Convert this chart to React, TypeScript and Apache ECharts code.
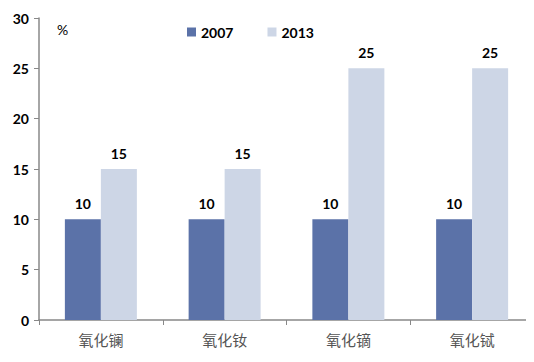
import React, { useEffect, useRef } from "react";
import * as echarts from "echarts";

const categories = ["氧化镧", "氧化钕", "氧化镝", "氧化铽"];
const series2007 = [10, 10, 10, 10];
const series2013 = [15, 15, 25, 25];
const yTicks = { min: 0, max: 30, interval: 5 };

const FONT = "Lato, 'Liberation Sans', sans-serif";

export default function App() {
  const ref = useRef<HTMLDivElement>(null);
  useEffect(() => {
    const chart = echarts.init(ref.current!, null, { renderer: "svg" });
    const labelStyle = {
      show: true,
      position: "top" as const,
      color: "#000",
      fontSize: 14,
      fontWeight: "bold" as const,
      fontFamily: FONT,
      distance: 9,
    };
    chart.setOption({
      animation: false,
      backgroundColor: "#fff",
      grid: { left: 39, right: -1, top: 18, bottom: 42 },
      legend: {
        left: 182,
        top: 20,
        itemWidth: 9,
        itemHeight: 9,
        itemGap: 34,
        icon: "rect",
        textStyle: { fontSize: 14, color: "#000", fontFamily: FONT, fontWeight: "bold" },
        data: ["2007", "2013"],
      },
      graphic: [
        {
          type: "text",
          left: 57,
          top: 22,
          style: { text: "%", fontSize: 14, fill: "#000", fontFamily: FONT },
        },
      ],
      xAxis: {
        type: "category",
        data: categories,
        axisLine: { lineStyle: { color: "#888", width: 1.5 } },
        axisTick: { show: true, length: 5, lineStyle: { color: "#888" } },
        axisLabel: {
          fontSize: 15,
          color: "#555",
          margin: 12,
          fontFamily: "'Noto Sans CJK SC', sans-serif",
        },
      },
      yAxis: {
        type: "value",
        min: yTicks.min,
        max: yTicks.max,
        interval: yTicks.interval,
        splitLine: { show: false },
        axisLine: { show: true, lineStyle: { color: "#888", width: 1.5 } },
        axisTick: { show: true, length: 5, lineStyle: { color: "#888" } },
        axisLabel: {
          fontSize: 14,
          color: "#000",
          margin: 10,
          fontWeight: "bold",
          fontFamily: FONT,
        },
      },
      series: [
        {
          name: "2007",
          type: "bar",
          data: series2007,
          barWidth: 36,
          barGap: "0%",
          itemStyle: { color: "#5b72a8" },
          label: labelStyle,
        },
        {
          name: "2013",
          type: "bar",
          data: series2013,
          barWidth: 36,
          itemStyle: { color: "#cdd6e6" },
          label: labelStyle,
        },
      ],
    });
    return () => chart.dispose();
  }, []);
  return <div ref={ref} style={{ width: 534, height: 362, margin: -8 }} />;
}
